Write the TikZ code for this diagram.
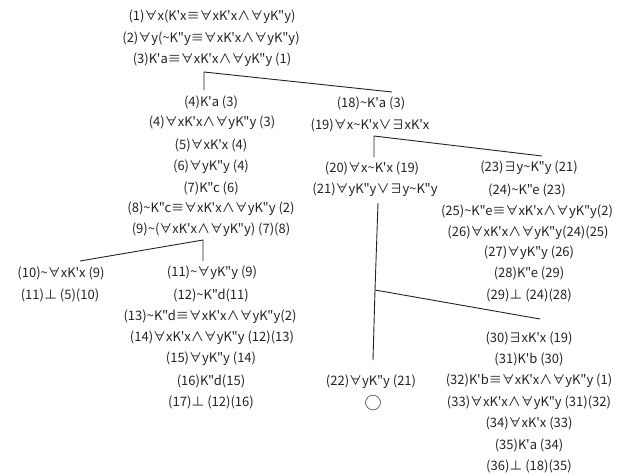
\documentclass[tikz,border=0pt]{standalone}
\usepackage{fontspec}
\newfontfamily\jpfont{Noto Sans CJK JP}
\newcommand{\myt}{\string~}
\definecolor{txt}{RGB}{35,35,35}
\begin{document}
\begin{tikzpicture}[x=1pt,y=-1pt,
  every node/.style={font=\jpfont\fontsize{13}{15}\selectfont, text=txt, inner sep=0pt, anchor=center},
  conn/.style={draw=txt, line width=0.9pt}]
\useasboundingbox (0,0) rectangle (629,475);
% top trunk
\node (n1)  at (212,17) {(1)∀x(K'x≡∀xK'x∧∀yK"y)};
\node (n2)  at (211,39) {(2)∀y(\myt K"y≡∀xK'x∧∀yK"y)};
\node (n3)  at (212,60) {(3)K'a≡∀xK'x∧∀yK"y (1)};
% left branch
\node (n4a) at (211,102) {(4)K'a (3)};
\node (n4b) at (212,123) {(4)∀xK'x∧∀yK"y (3)};
\node (n5)  at (211,145) {(5)∀xK'x (4)};
\node (n6)  at (211,167) {(6)∀yK"y (4)};
\node (n7)  at (211,188) {(7)K"c (6)};
\node (n8)  at (211,209) {(8)\myt K"c≡∀xK'x∧∀yK"y (2)};
\node (n9)  at (211,230) {(9)\myt(∀xK'x∧∀yK"y) (7)(8)};
\node (n10) at (61,273)  {(10)\myt∀xK'x (9)};
\node (n11a) at (60,295) {(11)⊥ (5)(10)};
\node (n11b) at (212,273) {(11)\myt∀yK"y (9)};
\node (n12) at (211,295) {(12)\myt K"d(11)};
\node (n13) at (210,317) {(13)\myt K"d≡∀xK'x∧∀yK"y(2)};
\node (n14) at (212,338) {(14)∀xK'x∧∀yK"y (12)(13)};
\node (n15) at (211,359) {(15)∀yK"y (14)};
\node (n16) at (211,381) {(16)K"d(15)};
\node (n17) at (211,402) {(17)⊥ (12)(16)};
% right branch
\node (n18) at (371,103) {(18)\myt K'a (3)};
\node (n19) at (370,125) {(19)∀x\myt K'x∨∃xK'x};
\node (n20) at (372,168) {(20)∀x\myt K'x (19)};
\node (n21) at (375,190) {(21)∀yK"y∨∃y\myt K"y};
\node (n22) at (371,382) {(22)∀yK"y (21)};
\node[font=\jpfont\fontsize{17}{17}\selectfont] (n22o) at (373,403) {○};
\node (n23) at (529,168) {(23)∃y\myt K"y (21)};
\node (n24) at (527,190) {(24)\myt K"e (23)};
\node (n25) at (527,212) {(25)\myt K"e≡∀xK'x∧∀yK"y(2)};
\node (n26) at (528,233) {(26)∀xK'x∧∀yK"y(24)(25)};
\node (n27) at (529,253) {(27)∀yK"y (26)};
\node (n28) at (529,273) {(28)K"e (29)};
\node (n29) at (529,295) {(29)⊥ (24)(28)};
\node (n30) at (529,338) {(30)∃xK'x (19)};
\node (n31) at (529,359) {(31)K'b (30)};
\node (n32) at (529,381) {(32)K'b≡∀xK'x∧∀yK"y (1)};
\node (n33) at (529,403) {(33)∀xK'x∧∀yK"y (31)(32)};
\node (n34) at (529,423) {(34)∀xK'x (33)};
\node (n35) at (529,445) {(35)K'a (34)};
\node (n36) at (529,466) {(36)⊥ (18)(35)};
% branch coordinates
\coordinate (b1)  at (204,72);
\coordinate (b1l) at (204,90);
\coordinate (b1r) at (392,92);
\coordinate (b2)  at (203,240);
\coordinate (b2l) at (80,261);
\coordinate (b2r) at (203,261);
\coordinate (b3)  at (374,136);
\coordinate (b3l) at (374,157);
\coordinate (b3r) at (542,156);
\coordinate (b4t) at (378,203);
\coordinate (b4)  at (375,290);
\coordinate (b4l) at (373,360);
\coordinate (b4r) at (540,319);
\draw[conn] (b1l) -- (b1) -- (b1r);
\draw[conn] (b2l) -- (b2) -- (b2r);
\draw[conn] (b3l) -- (b3) -- (b3r);
\draw[conn] (b4t) -- (b4) -- (b4l);
\draw[conn] (b4) -- (b4r);
\end{tikzpicture}
\end{document}
